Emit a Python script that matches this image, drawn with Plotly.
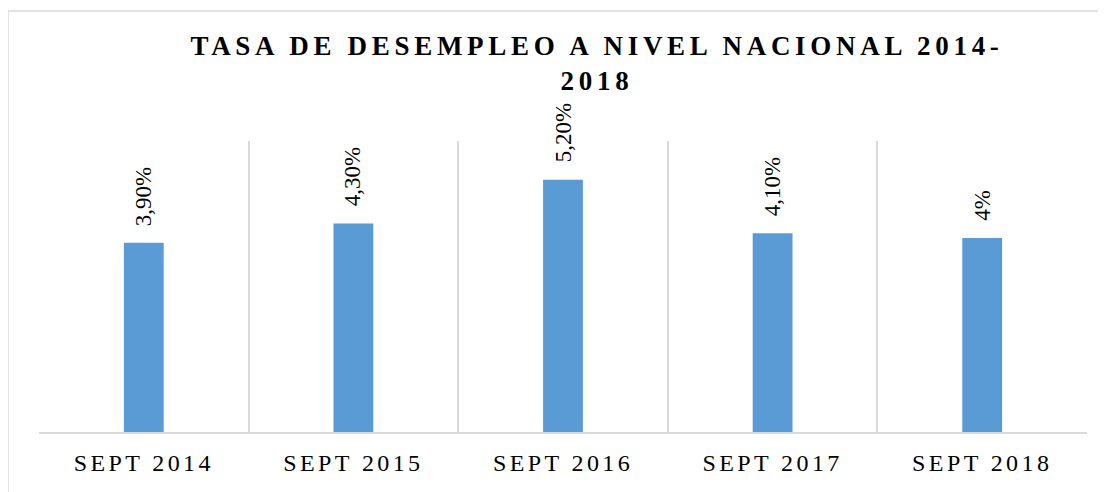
import plotly.graph_objects as go

categories = ["SEPT 2014", "SEPT 2015", "SEPT 2016", "SEPT 2017", "SEPT 2018"]
values = [3.9, 4.3, 5.2, 4.1, 4.0]
labels = ["3,90%", "4,30%", "5,20%", "4,10%", "4%"]
title_text = "TASA DE DESEMPLEO A NIVEL NACIONAL 2014-<br>2018"

BAR = "#5B9BD5"
GRID = "#D9D9D9"
SERIF = "Liberation Serif, Times New Roman, serif"

fig = go.Figure()
fig.add_trace(go.Bar(
    x=categories, y=values, width=0.19,
    marker=dict(color=BAR, line=dict(width=0)),
    hoverinfo="skip", showlegend=False,
))

for c, v, t in zip(categories, values, labels):
    fig.add_annotation(
        x=c, y=v, text=t, textangle=-90, showarrow=False,
        xanchor="center", yanchor="bottom", yshift=15,
        font=dict(family=SERIF, size=23, color="#000000"),
    )

fig.add_shape(
    type="rect", xref="paper", yref="paper",
    x0=-0.0296, x1=1.04, y0=-0.3, y1=1.4467,
    line=dict(color=GRID, width=1.5), fillcolor="rgba(0,0,0,0)", layer="below",
)

fig.update_layout(
    width=1106, height=492,
    margin=dict(l=31, r=27, t=133, b=68),
    paper_bgcolor="#FFFFFF", plot_bgcolor="#FFFFFF",
    title=dict(
        text=title_text, x=589 / 1106, xanchor="center", xref="container",
        y=1 - 47 / 492, yanchor="top", yref="container",
        font=dict(family=SERIF, size=27, color="#000000", weight="bold"),
    ),
    xaxis=dict(
        type="category", tickson="boundaries", showgrid=True,
        gridcolor=GRID, gridwidth=1.5, showline=True, linecolor=GRID,
        linewidth=1.5, ticks="", ticklabelstandoff=8,
        tickfont=dict(family=SERIF, size=24, color="#000000"),
        range=[-0.5, 4.5],
    ),
    yaxis=dict(range=[0, 6], showgrid=False, zeroline=False,
               showticklabels=False, showline=False, ticks=""),
    bargap=0.8,
)

post = """
(function(){
  function spacing(){
    var gd = document.getElementById('{plot_id}');
    if(!gd) return;
    gd.querySelectorAll('.xtick text').forEach(function(t){ t.style.letterSpacing = '3.4px'; });
    gd.querySelectorAll('.gtitle').forEach(function(t){ t.style.letterSpacing = '4.7px'; });
  }
  spacing();
  setTimeout(spacing, 0);
  setTimeout(spacing, 100);
})();
"""

fig.write_html("out.html", post_script=post)
